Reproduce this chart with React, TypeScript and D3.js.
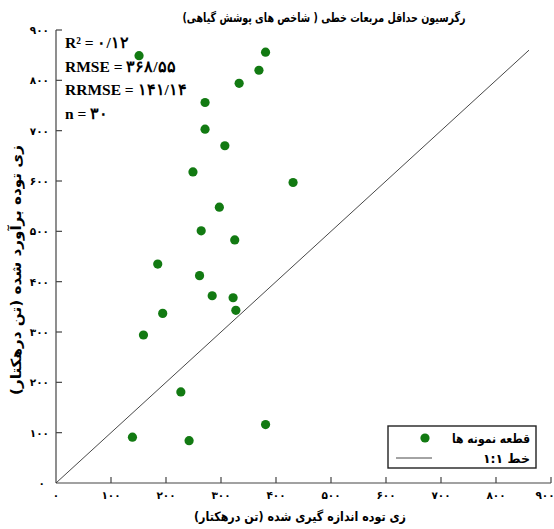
import * as d3 from "d3";
import React from "react";

const measured = [151, 381, 369, 333, 271, 271, 307, 249, 431, 297, 264, 325, 185, 261, 284, 322, 327, 194, 159, 227, 139, 242, 381];
const estimated = [849, 856, 820, 794, 756, 703, 670, 618, 597, 548, 501, 483, 435, 412, 372, 368, 343, 337, 294, 181, 91, 84, 116];
const tickValues = [0, 100, 200, 300, 400, 500, 600, 700, 800, 900];
const oneToOne = [0, 860];
const statsLines = ["R² = ۰/۱۲", "RMSE = ۳۶۸/۵۵", "RRMSE = ۱۴۱/۱۴", "n = ۳۰"];

const title = "رگرسیون حداقل مربعات خطی ( شاخص های پوشش گیاهی)";
const xTitle = "زی توده اندازه گیری شده (تن درهکتار)";
const yTitle = "زی توده برآورد شده (تن درهکتار)";
const legendPoints = "قطعه نمونه ها";
const legendLine = "خط ۱:۱";

const W = 554, H = 529;
const green = "#127a12";
const axisColor = "#444";
const faFont = "'DejaVu Sans', sans-serif";
const latinFont = "'Liberation Serif', 'DejaVu Serif', serif";

const toFa = (n: number) => String(n).replace(/\d/g, (d) => "۰۱۲۳۴۵۶۷۸۹"[+d]);

export default function App() {
  const x = d3.scaleLinear().domain([0, 900]).range([56, 551]);
  const y = d3.scaleLinear().domain([0, 900]).range([483, 30]);
  const pts = d3.zip(measured, estimated);
  const line = d3.line<number>().x((d) => x(d)).y((d) => y(d));

  return (
    <svg width={W} height={H} style={{ position: "absolute", left: 0, top: 0, background: "#fff" }}>
      <text x={324} y={22} textAnchor="middle" fontFamily={faFont} fontWeight="bold" fontSize={12.5} direction="rtl"
        textLength={283} lengthAdjust="spacingAndGlyphs">
        {title}
      </text>

      {/* axes */}
      <line x1={x(0)} x2={x(900)} y1={y(0)} y2={y(0)} stroke={axisColor} strokeWidth={1.2} />
      <line x1={x(0)} x2={x(0)} y1={y(0)} y2={y(900)} stroke={axisColor} strokeWidth={1.2} />
      {tickValues.slice(1).map((t) => (
        <line key={"xt" + t} x1={x(t)} x2={x(t)} y1={y(0)} y2={y(0) - 6} stroke={axisColor} strokeWidth={1.2} />
      ))}
      {tickValues.slice(1).map((t) => (
        <line key={"yt" + t} x1={x(0)} x2={x(0) + 6} y1={y(t)} y2={y(t)} stroke={axisColor} strokeWidth={1.2} />
      ))}
      {tickValues.map((t) => (
        <text key={"xl" + t} x={x(t) - (t === 900 ? 6 : 0)} y={499} textAnchor="middle" fontFamily={faFont} fontWeight="bold" fontSize={10.5}>
          {toFa(t)}
        </text>
      ))}
      {tickValues.map((t) => (
        <text key={"yl" + t} x={t === 0 ? 45 : 49} y={y(t) + 4} textAnchor="end" fontFamily={faFont} fontWeight="bold" fontSize={10.5}>
          {toFa(t)}
        </text>
      ))}

      {/* 1:1 line */}
      <path d={line(oneToOne) ?? ""} fill="none" stroke="#333" strokeWidth={0.9} />

      {pts.map(([a, b], i) => (
        <circle key={i} cx={x(a)} cy={y(b)} r={4.6} fill={green} />
      ))}

      {statsLines.map((s, i) => (
        <text key={s} x={65} y={48 + i * 23.5} fontFamily={latinFont} fontWeight="bold" fontSize={15.5} direction="ltr">
          {s}
        </text>
      ))}

      <text x={300} y={521} textAnchor="middle" fontFamily={faFont} fontWeight="bold" fontSize={13} direction="rtl"
        textLength={212} lengthAdjust="spacingAndGlyphs">
        {xTitle}
      </text>
      <text transform={`translate(21,270) rotate(-90)`} textAnchor="middle" fontFamily={faFont} fontWeight="bold" fontSize={14}
        direction="rtl" textLength={250} lengthAdjust="spacingAndGlyphs">
        {yTitle}
      </text>

      {/* legend */}
      <g>
        <rect x={388} y={426} width={148} height={42} fill="#fff" stroke="#222" strokeWidth={1.4} />
        <circle cx={425} cy={438} r={4.6} fill={green} />
        <text x={530} y={443} textAnchor="start" fontFamily={faFont} fontWeight="bold" fontSize={12.5} direction="rtl"
          textLength={78} lengthAdjust="spacingAndGlyphs">
          {legendPoints}
        </text>
        <line x1={396} x2={432} y1={458} y2={458} stroke="#333" strokeWidth={0.9} />
        <text x={530} y={463} textAnchor="start" fontFamily={faFont} fontWeight="bold" fontSize={12.5} direction="rtl">
          {legendLine}
        </text>
      </g>
    </svg>
  );
}
